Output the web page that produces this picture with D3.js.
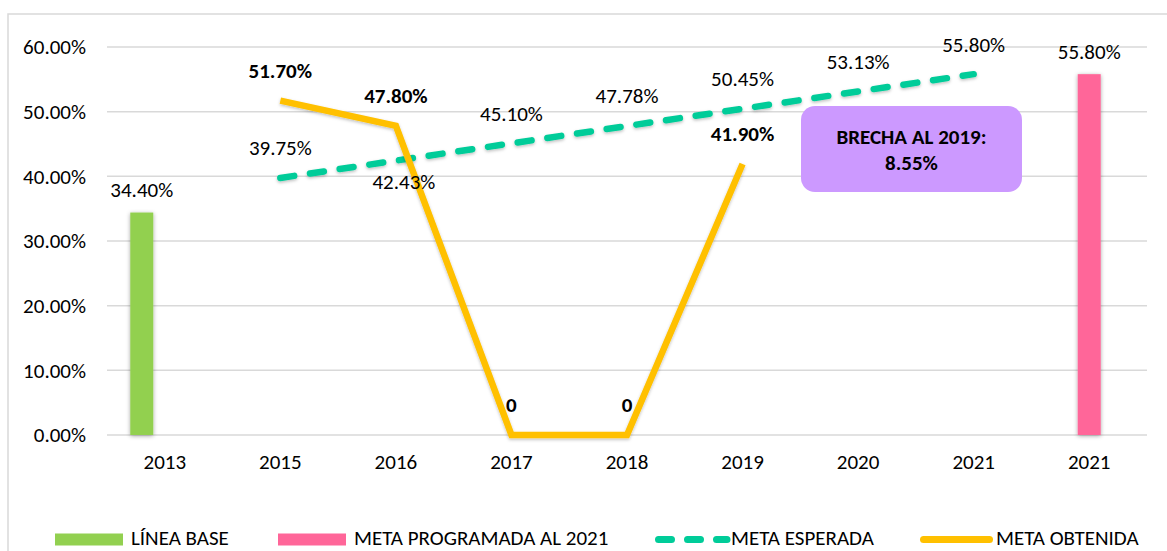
<!DOCTYPE html>
<html>
<head>
<meta charset="utf-8">
<script src="https://cdn.jsdelivr.net/npm/d3@7"></script>
<style>
  html, body { margin: 0; padding: 0; background: #fff; }
  svg { display: block; font-family: Carlito, Calibri, Lato, sans-serif; }
</style>
</head>
<body>
<svg id="chart" width="1167" height="551"></svg>
<script>
// ---- data ----
const categories = ["2013", "2015", "2016", "2017", "2018", "2019", "2020", "2021", "2021"];
const lineaBase = [0.344, null, null, null, null, null, null, null, null];
const metaProgramada = [null, null, null, null, null, null, null, null, 0.558];
const metaEsperada = [null, 0.3975, 0.4243, 0.4510, 0.4778, 0.5045, 0.5313, 0.5580, null];
const metaObtenida = [null, 0.517, 0.478, 0, 0, 0.419, null, null, null];
const esperadaLabelSide = [null, "above", "below", "above", "above", "above", "above", "above", null];
const yTicks = [0, 0.1, 0.2, 0.3, 0.4, 0.5, 0.6];
const seriesNames = ["LÍNEA BASE", "META PROGRAMADA AL 2021", "META ESPERADA", "META OBTENIDA"];
const annotationLines = ["BRECHA AL 2019:", "8.55%"];

// ---- styles ----
const FS = 21;
const C = {
  green: "#92D050", pink: "#FF6699", teal: "#00CC99", gold: "#FFC000",
  grid: "#D9D9D9", text: "#000000", box: "#CC99FF"
};

const svg = d3.select("#chart");
const defs = svg.append("defs");
const sh = defs.append("filter").attr("id", "shadow")
  .attr("x", "-50%").attr("y", "-10%").attr("width", "200%").attr("height", "120%");
sh.append("feDropShadow").attr("dx", 0).attr("dy", 1).attr("stdDeviation", 2)
  .attr("flood-color", "#000").attr("flood-opacity", 0.35);
const shL = defs.append("filter").attr("id", "shadowL")
  .attr("x", "-10%").attr("y", "-10%").attr("width", "120%").attr("height", "120%");
shL.append("feDropShadow").attr("dx", 0).attr("dy", 1.5).attr("stdDeviation", 1.5)
  .attr("flood-color", "#000").attr("flood-opacity", 0.25);

svg.append("rect").attr("width", 1167).attr("height", 551).attr("fill", "#fff");
// outer chart border
svg.append("rect").attr("x", 8).attr("y", 14).attr("width", 1200).attr("height", 600)
  .attr("fill", "none").attr("stroke", C.grid).attr("stroke-width", 1.5);

const plot = { left: 107, right: 1147, top: 47, bottom: 435 };
const idx = d3.range(categories.length);
const x = d3.scaleBand().domain(idx).range([plot.left, plot.right]).padding(0);
const y = d3.scaleLinear().domain([0, 0.6]).range([plot.bottom, plot.top]);
const sub = d3.scaleBand().domain(["LÍNEA BASE", "META PROGRAMADA AL 2021"]).range([-34.5, 11.5]);
const cx = i => x(i) + x.bandwidth() / 2;
const pct = d3.format(".2%");

// gridlines
svg.append("g").selectAll("line").data(yTicks).join("line")
  .attr("x1", plot.left).attr("x2", plot.right)
  .attr("y1", d => y(d)).attr("y2", d => y(d))
  .attr("stroke", C.grid).attr("stroke-width", 1.5);

// y axis labels
const yAxis = svg.append("g").attr("transform", `translate(${plot.left - 21},0)`)
  .call(d3.axisLeft(y).tickValues(yTicks).tickFormat(pct).tickSize(0).tickPadding(0));
yAxis.select(".domain").remove();
yAxis.selectAll("text").attr("font-size", FS).attr("fill", C.text)
  .attr("font-family", "Carlito, Calibri, Lato, sans-serif");

// x axis labels
const xAxis = svg.append("g").attr("transform", `translate(0,${plot.bottom})`)
  .call(d3.axisBottom(x).tickFormat(i => categories[i]).tickSize(0).tickPadding(19));
xAxis.select(".domain").remove();
xAxis.selectAll("text").attr("font-size", FS).attr("fill", C.text)
  .attr("font-family", "Carlito, Calibri, Lato, sans-serif");

// bars
const bars = [
  { name: "LÍNEA BASE", values: lineaBase, color: C.green },
  { name: "META PROGRAMADA AL 2021", values: metaProgramada, color: C.pink }
];
bars.forEach(s => {
  const d = idx.filter(i => s.values[i] != null);
  svg.append("g").selectAll("rect").data(d).join("rect")
    .attr("x", i => cx(i) + sub(s.name))
    .attr("width", sub.bandwidth())
    .attr("y", i => y(s.values[i]))
    .attr("height", i => y(0) - y(s.values[i]))
    .attr("fill", s.color).attr("filter", "url(#shadow)");
  svg.append("g").selectAll("text").data(d).join("text")
    .attr("x", i => cx(i) + sub(s.name) + sub.bandwidth() / 2)
    .attr("y", i => y(s.values[i]) - 23)
    .attr("dy", "0.35em").attr("text-anchor", "middle")
    .attr("font-size", FS).attr("fill", C.text)
    .text(i => pct(s.values[i]));
});

// lines
const lineGen = vals => d3.line()
  .defined(i => vals[i] != null)
  .x(i => cx(i)).y(i => y(vals[i]));

svg.append("path").datum(idx)
  .attr("d", lineGen(metaEsperada))
  .attr("fill", "none").attr("stroke", C.teal).attr("stroke-width", 6.5)
  .attr("stroke-dasharray", "14,16").attr("stroke-linecap", "round")
  .attr("filter", "url(#shadowL)");

svg.append("path").datum(idx)
  .attr("d", lineGen(metaObtenida))
  .attr("fill", "none").attr("stroke", C.gold).attr("stroke-width", 6.5)
  .attr("stroke-linejoin", "miter")
  .attr("filter", "url(#shadowL)");

// labels for lines
const espIdx = idx.filter(i => metaEsperada[i] != null);
svg.append("g").selectAll("text").data(espIdx).join("text")
  .attr("x", i => cx(i) + (esperadaLabelSide[i] === "below" ? 8 : 0))
  .attr("y", i => y(metaEsperada[i]) + (esperadaLabelSide[i] === "below" ? 21 : -30))
  .attr("dy", "0.35em").attr("text-anchor", "middle")
  .attr("font-size", FS).attr("fill", C.text)
  .text(i => pct(metaEsperada[i]));

const obtIdx = idx.filter(i => metaObtenida[i] != null);
svg.append("g").selectAll("text").data(obtIdx).join("text")
  .attr("x", i => cx(i))
  .attr("y", i => y(metaObtenida[i]) - 30)
  .attr("dy", "0.35em").attr("text-anchor", "middle")
  .attr("font-size", FS).attr("font-weight", "bold").attr("fill", C.text)
  .text(i => metaObtenida[i] === 0 ? "0" : pct(metaObtenida[i]));

// annotation box
const ann = svg.append("g");
ann.append("rect").attr("x", 801).attr("y", 106).attr("width", 221).attr("height", 86)
  .attr("rx", 14).attr("ry", 14).attr("fill", C.box);
ann.selectAll("text").data(annotationLines).join("text")
  .attr("x", 911.5).attr("y", (d, i) => 137 + i * 26)
  .attr("dy", "0.35em").attr("text-anchor", "middle")
  .attr("font-size", FS).attr("font-weight", "bold").attr("fill", C.text)
  .text(d => d);

// legend
const legendY = 538.5;
const legendItems = [
  { name: seriesNames[0], type: "rect", color: C.green, x: 55 },
  { name: seriesNames[1], type: "rect", color: C.pink, x: 278 },
  { name: seriesNames[2], type: "dash", color: C.teal, x: 655 },
  { name: seriesNames[3], type: "line", color: C.gold, x: 920 }
];
const lg = svg.append("g");
legendItems.forEach(it => {
  if (it.type === "rect") {
    lg.append("rect").attr("x", it.x).attr("y", legendY - 5).attr("width", 68).attr("height", 12)
      .attr("fill", it.color);
  } else if (it.type === "dash") {
    lg.append("line").attr("x1", it.x + 3.5).attr("x2", it.x + 72).attr("y1", legendY + 1).attr("y2", legendY + 1)
      .attr("stroke", it.color).attr("stroke-width", 7).attr("stroke-linecap", "round")
      .attr("stroke-dasharray", "13,16");
  } else {
    lg.append("line").attr("x1", it.x + 3.5).attr("x2", it.x + 69.5).attr("y1", legendY + 1).attr("y2", legendY + 1)
      .attr("stroke", it.color).attr("stroke-width", 7).attr("stroke-linecap", "round");
  }
  lg.append("text").attr("x", it.x + 76).attr("y", legendY).attr("dy", "0.33em")
    .attr("font-size", FS).attr("fill", C.text).text(it.name);
});
</script>
</body>
</html>
